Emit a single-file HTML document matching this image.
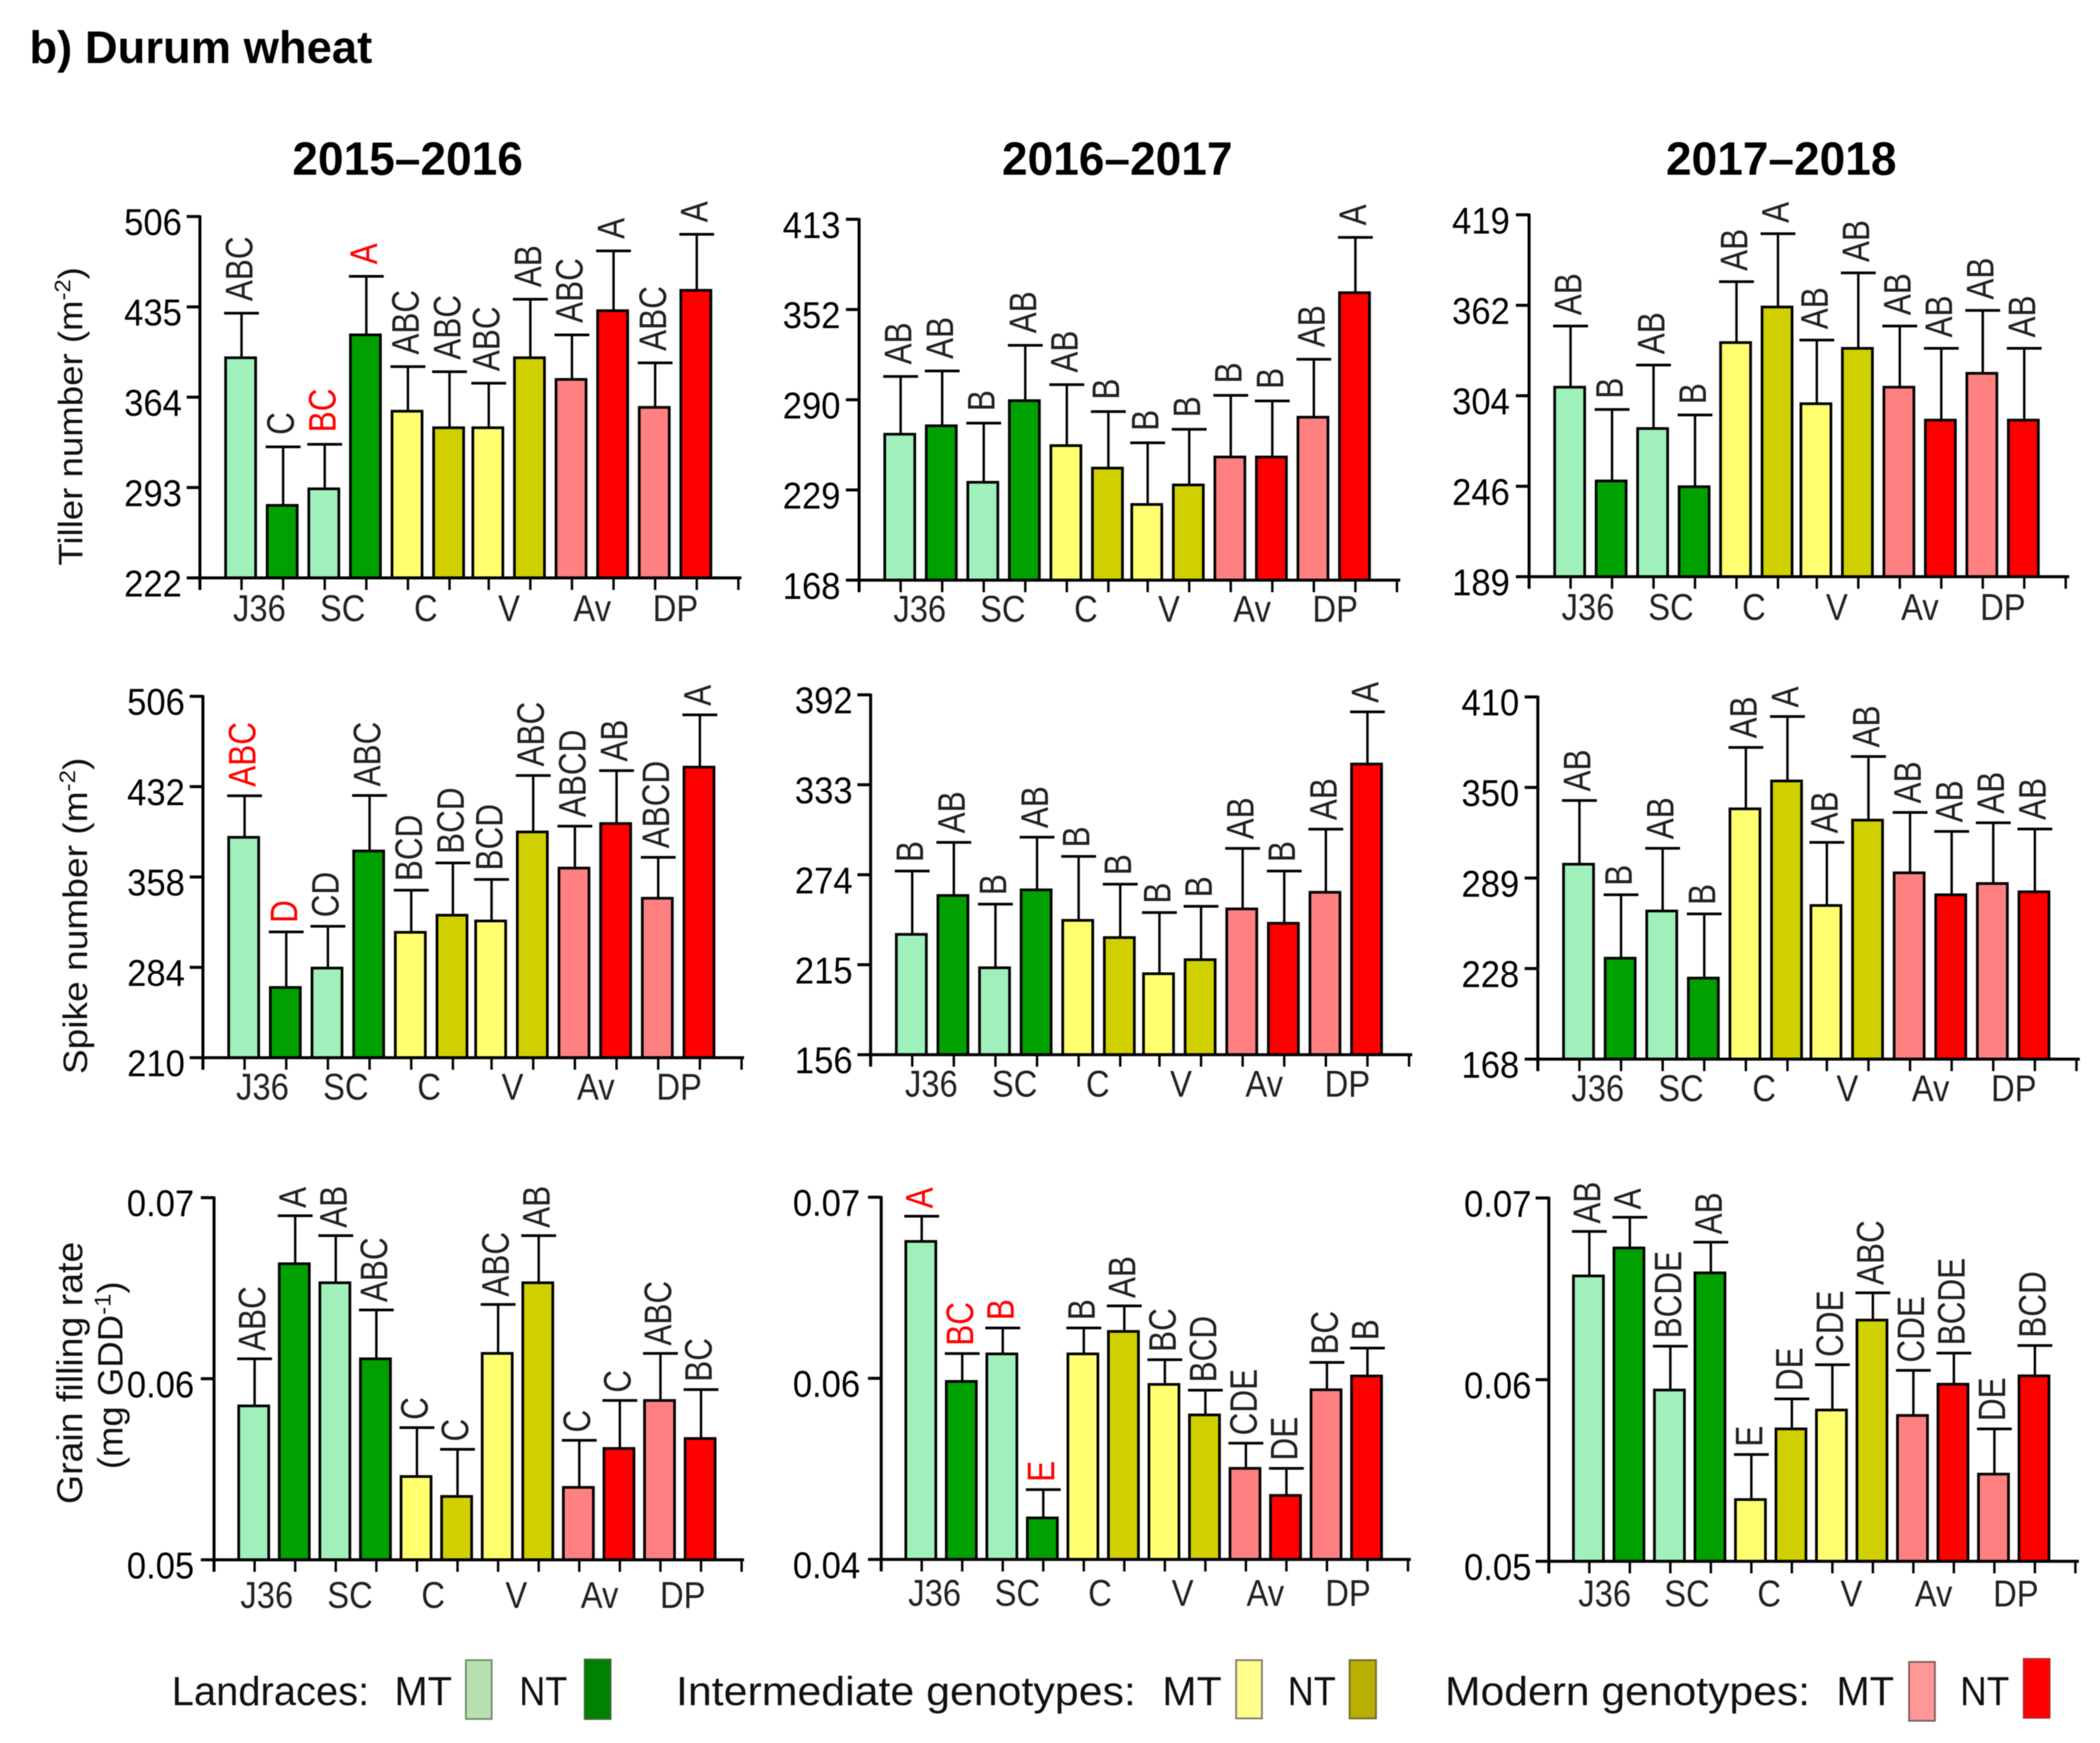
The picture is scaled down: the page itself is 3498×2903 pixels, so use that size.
<!DOCTYPE html>
<html lang="en">
<head>
<meta charset="utf-8">
<title>Durum wheat</title>
<style>
html,body{margin:0;padding:0;background:#fff;}
svg{display:block;font-family:"Liberation Sans",sans-serif;filter:blur(.8px);}
</style>
</head>
<body>
<svg id="chart" xmlns="http://www.w3.org/2000/svg" width="3498" height="2903" viewBox="0 0 3498 2903">
  <rect x="0" y="0" width="3498" height="2903" fill="#fff"/>
  <text x="49" y="105" font-size="76" font-weight="700" textLength="571" lengthAdjust="spacingAndGlyphs">b) Durum wheat</text>
  <text x="487" y="291" font-size="78" font-weight="700" textLength="384" lengthAdjust="spacingAndGlyphs">2015–2016</text>
  <text x="1669" y="291" font-size="78" font-weight="700" textLength="384" lengthAdjust="spacingAndGlyphs">2016–2017</text>
  <text x="2775" y="291" font-size="78" font-weight="700" textLength="384" lengthAdjust="spacingAndGlyphs">2017–2018</text>

  <text transform="translate(137,942) rotate(-90) scale(1.07,1)" font-size="57" fill="#111">Tiller number  (m<tspan font-size="37" dy="-20">-2</tspan><tspan dy="20">)</tspan></text>
  <text transform="translate(145,1789) rotate(-90) scale(1.085,1)" font-size="57" fill="#111">Spike number (m<tspan font-size="37" dy="-20">-2</tspan><tspan dy="20">)</tspan></text>
  <text transform="translate(137,2505) rotate(-90) scale(1.04,1)" font-size="60" fill="#111">Grain filling rate</text>
  <text transform="translate(204,2447) rotate(-90) scale(1.05,1)" font-size="58" fill="#111">(mg GDD<tspan font-size="38" dy="-20">-1</tspan><tspan dy="20">)</tspan></text>

  <g font-size="68" fill="#111">
    <text x="286" y="2840" textLength="329" lengthAdjust="spacingAndGlyphs">Landraces:</text>
    <text x="657" y="2840" textLength="96" lengthAdjust="spacingAndGlyphs">MT</text>
    <rect x="776" y="2765" width="43" height="98" fill="#b8e0b0" stroke="#6f8f6f" stroke-width="3"/>
    <text x="865" y="2840" textLength="80" lengthAdjust="spacingAndGlyphs">NT</text>
    <rect x="974" y="2764" width="43" height="99" fill="#008000" stroke="#2f6f2f" stroke-width="3"/>
    <text x="1126" y="2840" textLength="766" lengthAdjust="spacingAndGlyphs">Intermediate genotypes:</text>
    <text x="1936" y="2840" textLength="99" lengthAdjust="spacingAndGlyphs">MT</text>
    <rect x="2059" y="2765" width="43" height="97" fill="#ffff90" stroke="#808070" stroke-width="3"/>
    <text x="2145" y="2840" textLength="80" lengthAdjust="spacingAndGlyphs">NT</text>
    <rect x="2248" y="2765" width="44" height="97" fill="#b8b000" stroke="#707030" stroke-width="3"/>
    <text x="2407" y="2840" textLength="608" lengthAdjust="spacingAndGlyphs">Modern genotypes:</text>
    <text x="3059" y="2840" textLength="96" lengthAdjust="spacingAndGlyphs">MT</text>
    <rect x="3180" y="2768" width="43" height="98" fill="#ff9898" stroke="#806060" stroke-width="3"/>
    <text x="3265" y="2840" textLength="82" lengthAdjust="spacingAndGlyphs">NT</text>
    <rect x="3371" y="2763" width="43" height="98" fill="#ff0000" stroke="#c02020" stroke-width="3"/>
  </g>
</svg>
<script>
// Shared categories
const groupLabels = ['J36', 'SC', 'C', 'V', 'Av', 'DP'];
const barTreatments = ['MT', 'NT'];

// Row 1: tiller number
const tiller1516Ticks = [222, 293, 364, 435, 506];
const tiller1516Means = [395, 279, 292, 413, 353, 340, 340, 395, 378, 432, 356, 448];
const tiller1516ErrTops = [430, 325, 327, 459, 388, 384, 375, 441, 413, 479, 391, 492];
const tiller1516Letters = ['ABC', 'C', 'BC', 'A', 'ABC', 'ABC', 'ABC', 'AB', 'ABC', 'A', 'ABC', 'A'];
const tiller1516Flagged = [2, 3];

const tiller1617Ticks = [168, 229, 290, 352, 413];
const tiller1617Means = [266.7, 272.4, 234.2, 289.4, 259, 243.8, 219.2, 232.4, 251.3, 251.3, 278.2, 363.4];
const tiller1617ErrTops = [306, 309.8, 274.2, 327.4, 300.4, 282, 260.9, 270, 293, 289.2, 317.8, 400.8];
const tiller1617Letters = ['AB', 'AB', 'B', 'AB', 'AB', 'B', 'B', 'B', 'B', 'B', 'AB', 'A'];
const tiller1617Flagged = [];

const tiller1718Ticks = [189, 246, 304, 362, 419];
const tiller1718Means = [309.5, 249.4, 283, 245.7, 338.1, 360.9, 298.9, 334.4, 309.5, 288.4, 318.4, 288.4];
const tiller1718ErrTops = [348.7, 295.2, 323.7, 291.7, 376.9, 407.1, 339.7, 382.4, 348.7, 334.4, 358.7, 334.4];
const tiller1718Letters = ['AB', 'B', 'AB', 'B', 'AB', 'A', 'AB', 'AB', 'AB', 'AB', 'AB', 'AB'];
const tiller1718Flagged = [];

// Row 2: spike number
const spike1516Ticks = [210, 284, 358, 432, 506];
const spike1516Means = [390.5, 267.5, 283.4, 379.3, 312.7, 326.7, 322, 394.9, 365.3, 401.8, 340.6, 448];
const spike1516ErrTops = [424.5, 313, 317.6, 424.8, 347.2, 369.5, 356, 441.1, 399.6, 445.1, 374.1, 490.8];
const spike1516Letters = ['ABC', 'D', 'CD', 'ABC', 'BCD', 'BCD', 'BCD', 'ABC', 'ABCD', 'AB', 'ABCD', 'A'];
const spike1516Flagged = [0, 1];

const spike1617Ticks = [156, 215, 274, 333, 392];
const spike1617Means = [234.9, 260.4, 213, 264.1, 244.1, 232.8, 209.1, 218.3, 251.6, 242.2, 262.5, 346.6];
const spike1617ErrTops = [276.4, 295.2, 254.7, 298.6, 286, 267.8, 249.2, 253.3, 291.3, 276.4, 303.9, 380.8];
const spike1617Letters = ['B', 'AB', 'B', 'AB', 'B', 'B', 'B', 'B', 'AB', 'B', 'AB', 'A'];
const spike1617Flagged = [];

const spike1718Ticks = [168, 228, 289, 350, 410];
const spike1718Means = [298.3, 235, 266.8, 221.7, 335.6, 354.3, 270.5, 328, 292.5, 277.7, 285.3, 279.7];
const spike1718ErrTops = [341.2, 277.7, 309, 264.8, 376.5, 397, 313, 370.5, 333.2, 320.4, 326.2, 322];
const spike1718Letters = ['AB', 'B', 'AB', 'B', 'AB', 'A', 'AB', 'AB', 'AB', 'AB', 'AB', 'AB'];
const spike1718Flagged = [];

// Row 3: grain filling rate
const grain1516Ticks = [0.05, 0.06, 0.07];
const grain1516Means = [0.0585, 0.06635, 0.0653, 0.0611, 0.0546, 0.0535, 0.0614, 0.0653, 0.054, 0.05615, 0.0588, 0.0567];
const grain1516ErrTops = [0.0611, 0.069, 0.0679, 0.0638, 0.0573, 0.0561, 0.0641, 0.0679, 0.0566, 0.0588, 0.0614, 0.0594];
const grain1516Letters = ['ABC', 'A', 'AB', 'ABC', 'C', 'C', 'ABC', 'AB', 'C', 'C', 'ABC', 'BC'];
const grain1516Flagged = [];

const grain1617Ticks = [0.04, 0.06, 0.07];
const grain1617Means = [0.06756, 0.05966, 0.06135, 0.04459, 0.06135, 0.06259, 0.05933, 0.05596, 0.05006, 0.04707, 0.05874, 0.06013];
const grain1617ErrTops = [0.06895, 0.06137, 0.06278, 0.04771, 0.06278, 0.064, 0.06103, 0.05869, 0.05284, 0.05006, 0.06088, 0.06167];
const grain1617Letters = ['A', 'BC', 'B', 'E', 'B', 'AB', 'BC', 'BCD', 'CDE', 'DE', 'BC', 'B'];
const grain1617Flagged = [0, 1, 2, 3];

const grain1718Ticks = [0.05, 0.06, 0.07];
const grain1718Means = [0.06571, 0.06725, 0.05943, 0.06588, 0.0534, 0.05729, 0.05833, 0.06328, 0.05803, 0.05975, 0.0548, 0.06021];
const grain1718ErrTops = [0.06816, 0.06894, 0.06184, 0.06757, 0.05588, 0.05894, 0.06082, 0.06478, 0.06051, 0.06146, 0.05729, 0.06188];
const grain1718Letters = ['AB', 'A', 'BCDE', 'AB', 'E', 'DE', 'CDE', 'ABC', 'CDE', 'BCDE', 'DE', 'BCD'];
const grain1718Flagged = [];

// Fill colours by genotype group (pairs of MT, NT)
const barFills = ['#a0f0bc', '#00a000', '#ffff70', '#d0d000', '#ff8080', '#ff0000'];

const panels = [
  {id:'tiller-2015-2016', ticks:tiller1516Ticks, means:tiller1516Means, errTops:tiller1516ErrTops, letters:tiller1516Letters, flagged:tiller1516Flagged, left:333, right:1235, top:360.6, bottom:962.5, step:69.3, shift:4, fills:[0,1,0,1,2,3,2,3,4,5,4,5], labelStart:1.43, labelStep:2, labelDrop:72, tickGap:30, letterGap:20},
  {id:'tiller-2016-2017', ticks:tiller1617Ticks, means:tiller1617Means, errTops:tiller1617ErrTops, letters:tiller1617Letters, flagged:tiller1617Flagged, left:1431, right:2332.5, top:365.3, bottom:966.3, step:69.2, shift:3.7, fills:[0,1,0,1,2,3,2,3,4,5,4,5], labelStart:1.46, labelStep:2, labelDrop:69, tickGap:31, letterGap:20},
  {id:'tiller-2017-2018', ticks:tiller1718Ticks, means:tiller1718Means, errTops:tiller1718ErrTops, letters:tiller1718Letters, flagged:tiller1718Flagged, left:2547, right:3446.7, top:357.8, bottom:960.5, step:69.1, shift:4.4, fills:[0,1,0,1,2,3,2,3,4,5,4,5], labelStart:1.42, labelStep:2, labelDrop:72, tickGap:32, letterGap:18},
  {id:'spike-2015-2016', ticks:spike1516Ticks, means:spike1516Means, errTops:spike1516ErrTops, letters:spike1516Letters, flagged:spike1516Flagged, left:338, right:1239.4, top:1159.7, bottom:1761.6, step:69.4, shift:5, fills:[0,1,0,1,2,3,2,3,4,5,4,5], labelStart:1.43, labelStep:2, labelDrop:70, tickGap:30, letterGap:15},
  {id:'spike-2016-2017', ticks:spike1617Ticks, means:spike1617Means, errTops:spike1617ErrTops, letters:spike1617Letters, flagged:spike1617Flagged, left:1450.2, right:2352.3, top:1157.2, bottom:1756.6, step:69.3, shift:4, fills:[0,1,0,1,2,3,2,3,4,5,4,5], labelStart:1.46, labelStep:2, labelDrop:70, tickGap:30, letterGap:15},
  {id:'spike-2017-2018', ticks:spike1718Ticks, means:spike1718Means, errTops:spike1718ErrTops, letters:spike1718Letters, flagged:spike1718Flagged, left:2561.6, right:3464.3, top:1160.7, bottom:1764, step:69.3, shift:3.7, fills:[0,1,0,1,2,3,2,3,4,5,4,5], labelStart:1.44, labelStep:2, labelDrop:70, tickGap:31, letterGap:15},
  {id:'grain-2015-2016', ticks:grain1516Ticks, means:grain1516Means, errTops:grain1516ErrTops, letters:grain1516Letters, flagged:grain1516Flagged, left:356.5, right:1239.4, top:1994.7, bottom:2597.9, step:67.6, shift:0, fills:[0,1,0,1,2,3,2,3,4,5,4,5], labelStart:1.3, labelStep:2.05, labelDrop:80, tickGap:33, letterGap:13},
  {id:'grain-2016-2017', ticks:grain1617Ticks, means:grain1617Means, errTops:grain1617ErrTops, letters:grain1617Letters, flagged:grain1617Flagged, left:1467.8, right:2350, top:1994, bottom:2597.3, step:67.5, shift:0, fills:[0,1,0,1,2,3,2,3,4,5,4,5], labelStart:1.32, labelStep:2.04, labelDrop:77, tickGap:35, letterGap:13},
  {id:'grain-2017-2018', ticks:grain1718Ticks, means:grain1718Means, errTops:grain1718ErrTops, letters:grain1718Letters, flagged:grain1718Flagged, left:2579.9, right:3462.8, top:1995.3, bottom:2600.4, step:67.47, shift:0, fills:[0,1,0,1,2,3,2,3,4,5,4,5], labelStart:1.38, labelStep:2.03, labelDrop:75, tickGap:29, letterGap:13}
];

const SVG_NS = 'http://www.w3.org/2000/svg';
const root = document.getElementById('chart');

function make(parent, tag, attrs) {
  const node = document.createElementNS(SVG_NS, tag);
  for (const key in attrs) node.setAttribute(key, attrs[key]);
  parent.appendChild(node);
  return node;
}

// Axis function: ticks sit at equal spacing, values interpolate between them
function makeYScale(ticks, top, bottom) {
  const gap = (bottom - top) / (ticks.length - 1);
  return function (value) {
    let seg = 0;
    while (seg < ticks.length - 2 && value > ticks[seg + 1]) seg++;
    const frac = (value - ticks[seg]) / (ticks[seg + 1] - ticks[seg]);
    return bottom - (seg + frac) * gap;
  };
}

function makeXScale(p) {
  return function (i) {
    return p.left + p.step * (i + 1) - (i >= 6 ? p.shift : 0);
  };
}

panels.forEach(function (p) {
  const y = makeYScale(p.ticks, p.top, p.bottom);
  const x = makeXScale(p);

  const g = make(root, 'g', {});
  
  

  // error bars first, so the bar covers the stem base
  p.means.forEach(function (mean, i) {
    const cx = x(i);
    const stem = make(g, 'line', {x1: cx, x2: cx, y1: y(mean), y2: y(p.errTops[i]), stroke: '#000', 'stroke-width': 4});
    
    
    const cap = make(g, 'line', {x1: cx - 29, x2: cx + 29, y1: y(p.errTops[i]), y2: y(p.errTops[i]), stroke: '#000', 'stroke-width': 4.5});
    
    
  });

  // bars
  p.means.forEach(function (mean, i) {
    const cx = x(i) - 1.5;
    const top = y(mean);
    const bar = make(g, 'rect', {x: cx - 25, y: top, width: 50, height: p.bottom - top, fill: barFills[p.fills[i]], stroke: '#000', 'stroke-width': 4.5});
    
    
  });

  // significance letters
  p.letters.forEach(function (letter, i) {
    const lx = x(i) + 18;
    const ly = y(p.errTops[i]) - p.letterGap;
    const t = make(g, 'text', {transform: 'translate(' + lx + ',' + ly + ') rotate(-90) scale(.82,1)', 'font-size': 64, fill: p.flagged.indexOf(i) >= 0 ? '#ff0000' : '#222'});
    t.textContent = letter;
    
    
  });

  // y axis
  const yAxis = make(g, 'line', {x1: p.left, x2: p.left, y1: p.top - 2, y2: p.bottom + 20, stroke: '#000', 'stroke-width': 5});
  
  
  p.ticks.forEach(function (tick) {
    const ty = y(tick);
    const mark = make(g, 'line', {x1: p.left - 22, x2: p.left, y1: ty, y2: ty, stroke: '#000', 'stroke-width': 5});
    
    
    const label = make(g, 'text', {transform: 'translate(' + (p.left - p.tickGap) + ',' + (ty + 31) + ') scale(.93,1)', 'text-anchor': 'end', 'font-size': 62, fill: '#000'});
    label.textContent = String(tick);
    
    
  });

  // x axis
  const xAxis = make(g, 'line', {x1: p.left, x2: p.right, y1: p.bottom, y2: p.bottom, stroke: '#000', 'stroke-width': 5});
  
  
  for (let i = 0; i < p.means.length + 1; i++) {
    const tx = x(i);
    const mark = make(g, 'line', {x1: tx, x2: tx, y1: p.bottom, y2: p.bottom + 20, stroke: '#000', 'stroke-width': 4});
    
    
  }
  groupLabels.forEach(function (name, i) {
    const lx = p.left + p.step * (p.labelStart + p.labelStep * i);
    const label = make(g, 'text', {transform: 'translate(' + lx + ',' + (p.bottom + p.labelDrop) + ') scale(.88,1)', 'text-anchor': 'middle', 'font-size': 62, fill: '#222'});
    label.textContent = name;
    
    
  });
});
</script>
</body>
</html>
